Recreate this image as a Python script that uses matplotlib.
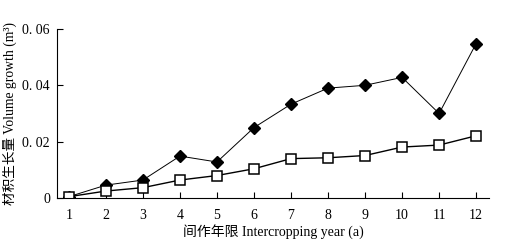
import matplotlib
matplotlib.use('Agg')
import matplotlib.pyplot as plt

plt.rcParams['font.family'] = ['Liberation Serif', 'Noto Sans CJK SC']

years = [1, 2, 3, 4, 5, 6, 7, 8, 9, 10, 11, 12]
diamond = [0.0005, 0.0046, 0.0064, 0.0149, 0.0128, 0.025, 0.0333, 0.039, 0.040, 0.0428, 0.030, 0.0548]
square = [0.0005, 0.0025, 0.0037, 0.0064, 0.008, 0.0104, 0.014, 0.0143, 0.0151, 0.0181, 0.0188, 0.0221]
yticks = [0, 0.02, 0.04, 0.06]
ytick_labels = ['0', '0. 02', '0. 04', '0. 06']

fig = plt.figure(figsize=(5.17, 2.47), dpi=100)
ax = fig.add_axes([0.110, 0.198, 0.836, 0.685])

ax.plot(years, diamond, color='black', linewidth=0.7, marker='D', markersize=6,
        markerfacecolor='black', markeredgecolor='black')
ax.plot(years, square, color='black', linewidth=1.0, marker='s', markersize=7,
        markerfacecolor='white', markeredgecolor='black', markeredgewidth=1.1)

ax.set_xlim(0.676, 12.35)
ax.set_ylim(0, 0.06)
ax.set_xticks(years)
ax.set_yticks(yticks)
ax.set_yticklabels(ytick_labels)
ax.tick_params(direction='in', length=4, width=0.8, labelsize=10)
ax.tick_params(axis='x', pad=8)
ax.tick_params(axis='y', pad=5)
ax.spines['top'].set_visible(False)
ax.spines['right'].set_visible(False)
ax.set_xlabel('间作年限 Intercropping year (a)', fontsize=10, labelpad=1)
ax.set_ylabel('材积生长量 Volume growth (m³)', fontsize=9.8, labelpad=4)

fig.savefig('out.png', dpi=100)
